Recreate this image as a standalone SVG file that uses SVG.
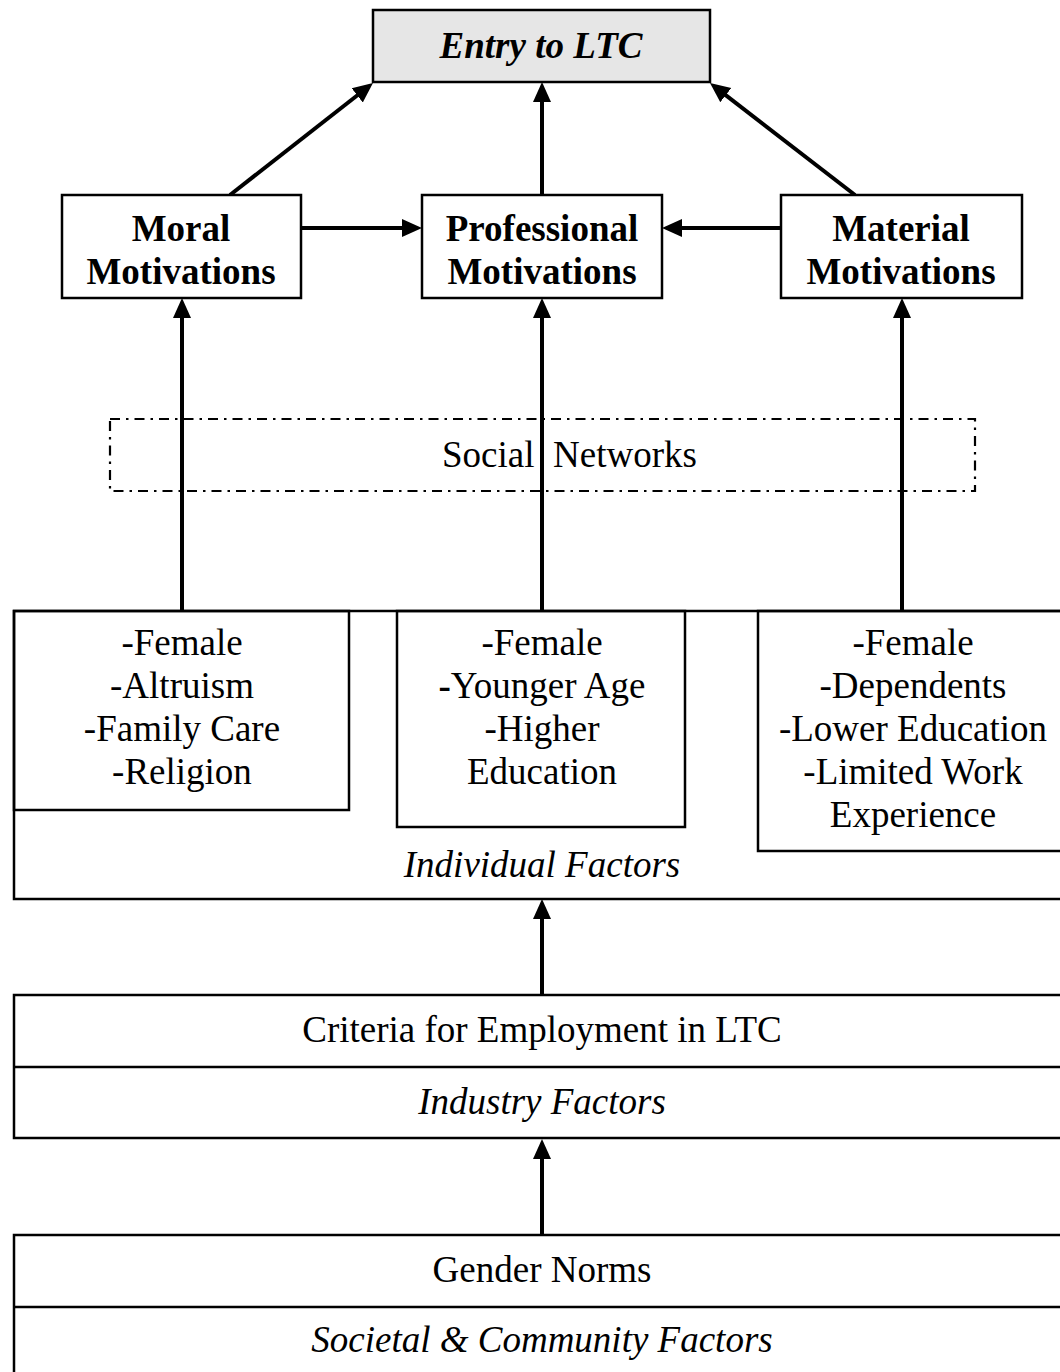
<svg xmlns="http://www.w3.org/2000/svg" width="1060" height="1372" viewBox="0 0 1060 1372">
<style>
.box{fill:#fff;stroke:#000;stroke-width:2.5}
.t{font-family:"Liberation Serif","Times New Roman",serif;font-size:37px;fill:#000;text-anchor:middle}
.b{font-weight:bold}
.i{font-style:italic}
.c{fill:none;stroke:#000;stroke-width:4;marker-end:url(#ah)}
</style>
<defs>
<marker id="ah" markerUnits="userSpaceOnUse" markerWidth="20" markerHeight="20" refX="10" refY="10" orient="auto">
<path d="M0,1 L20,10 L0,19 Z" fill="#000"/>
</marker>
</defs>
<rect width="1060" height="1372" fill="#fff"/>

<g id="connectors">
<line class="c" x1="230" y1="195" x2="365.1" y2="89.2"/>
<line class="c" x1="542" y1="203" x2="542" y2="92"/>
<line class="c" x1="855" y1="195" x2="717.9" y2="89.1"/>
<line class="c" x1="302" y1="228" x2="412" y2="228"/>
<line class="c" x1="781" y1="228" x2="672" y2="228"/>
<line class="c" x1="182" y1="611" x2="182" y2="308"/>
<line class="c" x1="542" y1="611" x2="542" y2="308"/>
<line class="c" x1="902" y1="611" x2="902" y2="308"/>
<line class="c" x1="542" y1="995" x2="542" y2="909"/>
<line class="c" x1="542" y1="1235" x2="542" y2="1149"/>
</g>

<g id="entry">
<rect x="373" y="10" width="337" height="72" fill="#e6e6e6" stroke="#000" stroke-width="2.5"/>
<text class="t b i" x="541" y="58">Entry to LTC</text>
</g>

<g id="moral">
<rect class="box" x="62" y="195" width="239" height="103"/>
<text class="t b" x="181" y="241">Moral</text>
<text class="t b" x="181" y="284">Motivations</text>
</g>

<g id="professional">
<rect class="box" x="422" y="195" width="240" height="103"/>
<text class="t b" x="542" y="241">Professional</text>
<text class="t b" x="542" y="284">Motivations</text>
</g>

<g id="material">
<rect class="box" x="781" y="195" width="241" height="103"/>
<text class="t b" x="901" y="241">Material</text>
<text class="t b" x="901" y="284">Motivations</text>
</g>

<g id="social-networks">
<rect x="110" y="419" width="865" height="72" fill="none" stroke="#000" stroke-width="2.2" stroke-dasharray="10 6 2.5 6"/>
<text class="t" y="467" style="text-anchor:start"><tspan x="442">Social</tspan> <tspan x="553">Networks</tspan></text>
</g>

<g id="individual-factors">
<rect x="14" y="611" width="1060" height="288" fill="none" stroke="#000" stroke-width="2.5"/>
<text class="t i" x="542" y="877">Individual Factors</text>
</g>

<g id="moral-factors">
<rect x="14" y="611" width="335" height="199" fill="none" stroke="#000" stroke-width="2.5"/>
<text class="t" x="182" y="655">-Female</text>
<text class="t" x="182" y="698">-Altruism</text>
<text class="t" x="182" y="741">-Family Care</text>
<text class="t" x="182" y="784">-Religion</text>
</g>

<g id="professional-factors">
<rect x="397" y="611" width="288" height="216" fill="none" stroke="#000" stroke-width="2.5"/>
<text class="t" x="542" y="655">-Female</text>
<text class="t" x="542" y="698"><tspan class="b">-</tspan>Younger Age</text>
<text class="t" x="542" y="741">-Higher</text>
<text class="t" x="542" y="784">Education</text>
</g>

<g id="material-factors">
<rect x="758" y="611" width="310" height="240" fill="none" stroke="#000" stroke-width="2.5"/>
<text class="t" x="913" y="655">-Female</text>
<text class="t" x="913" y="698">-Dependents</text>
<text class="t" x="913" y="741">-Lower Education</text>
<text class="t" x="913" y="784">-Limited Work</text>
<text class="t" x="913" y="827">Experience</text>
</g>

<g id="industry-factors">
<rect class="box" x="14" y="995" width="1060" height="143"/>
<line x1="14" y1="1067" x2="1074" y2="1067" stroke="#000" stroke-width="2.5"/>
<text class="t" x="542" y="1042">Criteria for Employment in LTC</text>
<text class="t i" x="542" y="1114">Industry Factors</text>
</g>

<g id="societal-factors">
<rect class="box" x="14" y="1235" width="1060" height="150"/>
<line x1="14" y1="1307" x2="1074" y2="1307" stroke="#000" stroke-width="2.5"/>
<text class="t" x="542" y="1282">Gender Norms</text>
<text class="t i" x="542" y="1352">Societal &amp; Community Factors</text>
</g>
</svg>
